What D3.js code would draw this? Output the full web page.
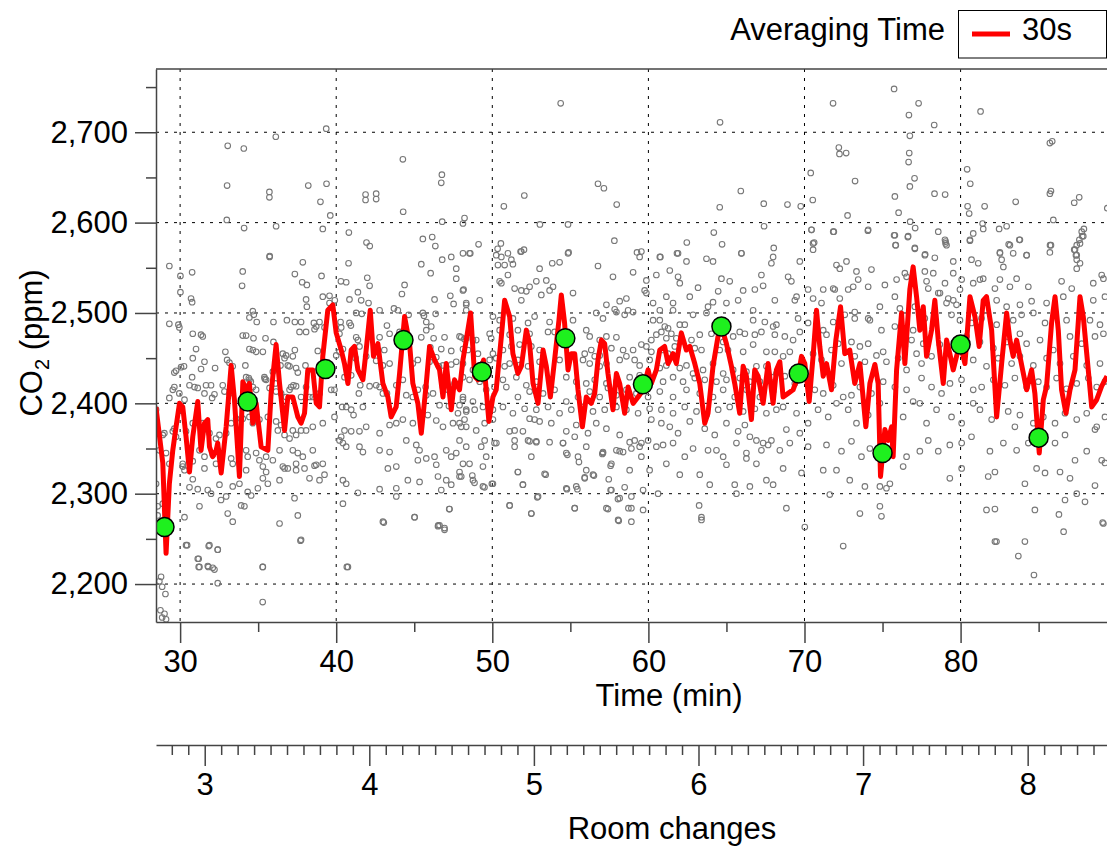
<!DOCTYPE html>
<html>
<head>
<meta charset="utf-8">
<script src="https://d3js.org/d3.v7.min.js"></script>
<style>
    body { margin: 0; background: #fff; }
    svg text { font-family: "Liberation Sans", Arial, Helvetica, sans-serif; fill: #000; }
</style>
</head>
<body>
<svg id="chart" width="1107" height="846"></svg>
<script>
// axis ranges and ticks
const timeDomain = [28.455, 89.38];
const co2Domain = [2158, 2770];
const roomDomain = [2.704, 8.482];
const timeTicks = [30, 40, 50, 60, 70, 80];
const timeMinor = [35, 45, 55, 65, 75, 85];
const co2Ticks = [2200, 2300, 2400, 2500, 2600, 2700];
const co2Minor = [2250, 2350, 2450, 2550, 2650, 2750];
const roomTicks = [3, 4, 5, 6, 7, 8];

// 30 s running average
const avgTime = [28.45, 28.89, 29.10, 29.31, 29.53, 29.74, 29.96, 30.17, 30.38, 30.60, 30.81, 31.13, 31.34, 31.56, 31.77, 31.88, 32.09, 32.31, 32.41, 32.63,
    32.95, 33.27, 33.48, 33.80, 34.02, 34.23, 34.44, 34.66, 34.87, 35.19, 35.62, 35.83, 36.15, 36.37, 36.69, 36.90, 37.22, 37.54, 37.75, 37.97,
    38.18, 38.50, 38.72, 38.93, 39.14, 39.46, 39.78, 40.00, 40.32, 40.53, 40.75, 40.96, 41.17, 41.39, 41.71, 41.92, 42.18, 42.39, 42.67, 42.99,
    43.31, 43.52, 43.84, 44.06, 44.38, 44.70, 44.91, 45.23, 45.45, 45.77, 45.98, 46.30, 46.62, 46.84, 47.05, 47.37, 47.58,
    47.90, 48.12, 48.33, 48.61, 48.87, 49.08, 49.29, 49.44, 49.61, 49.78, 50.04, 50.25, 50.58, 50.79, 51.11, 51.32, 51.64, 51.86, 52.18, 52.39,
    52.61, 52.93, 53.25, 53.46, 53.72, 53.99, 54.27, 54.42, 54.63, 54.85, 55.06, 55.28, 55.49, 55.77, 56.02, 56.34, 56.56, 56.77, 56.99, 57.20,
    57.41, 57.73, 57.95, 58.16, 58.48, 58.70, 59.02, 59.34, 59.66, 59.98, 60.19, 60.51, 60.73, 61.04, 61.26, 61.58, 61.79, 62.11, 62.43, 62.65,
    62.97, 63.29, 63.61, 63.82, 64.14, 64.46, 64.68, 65.00, 65.32, 65.53, 65.85, 66.07, 66.28, 66.60, 66.81, 67.03, 67.35, 67.67, 67.99, 68.20,
    68.42, 68.63, 68.95, 69.27, 69.59, 69.81, 70.02, 70.30, 70.55, 70.77, 70.98, 71.20, 71.41, 71.73, 72.01, 72.31, 72.58, 72.90, 73.22, 73.55,
    73.93, 74.19, 74.51, 74.72, 74.87, 75.15, 75.36, 75.58, 75.68, 75.90, 76.22, 76.43, 76.75, 76.96, 77.18, 77.39, 77.61, 77.82, 78.14, 78.35,
    78.57, 78.89, 79.10, 79.31, 79.53, 79.74, 79.96, 80.28, 80.60, 80.92, 81.19, 81.45, 81.66, 81.99, 82.31, 82.63, 82.95, 83.16, 83.37, 83.59,
    83.80, 84.23, 84.55, 84.76, 85.04, 85.30, 85.51, 85.83, 86.05, 86.26, 86.47, 86.75, 87.01, 87.33, 87.65, 87.86, 88.18, 88.40, 88.72, 89.04, 89.38];
const avgCO2 = [2396, 2334, 2234, 2311, 2348, 2374, 2400, 2396, 2363, 2324, 2363, 2402, 2348, 2378, 2382, 2352, 2341, 2348, 2356, 2323,
    2374, 2442, 2404, 2319, 2424, 2415, 2422, 2378, 2400, 2352, 2348, 2411, 2465, 2422, 2370, 2407, 2407, 2385, 2378, 2389,
    2437, 2437, 2400, 2396, 2452, 2503, 2509, 2478, 2459, 2444, 2422, 2459, 2463, 2437, 2426, 2459, 2503, 2452, 2466, 2422,
    2407, 2385, 2396, 2433, 2496, 2466, 2422, 2400, 2367, 2422, 2463, 2448, 2437, 2407, 2444, 2393, 2426,
    2415, 2448, 2470, 2500, 2430, 2426, 2437, 2448, 2415, 2380, 2407, 2415, 2474, 2514, 2496, 2455, 2433, 2441, 2481, 2466,
    2422, 2400, 2459, 2441, 2407, 2448, 2492, 2520, 2489, 2437, 2455, 2455, 2415, 2374, 2407, 2400, 2411, 2448, 2470, 2466,
    2433, 2393, 2433, 2422, 2389, 2418, 2400, 2407, 2415, 2437, 2422, 2437, 2459, 2463, 2444, 2455, 2444, 2478, 2459, 2463,
    2444, 2422, 2378, 2389, 2441, 2474, 2485, 2466, 2441, 2422, 2389, 2441, 2430, 2382, 2437, 2430, 2400, 2444, 2400, 2437,
    2446, 2407, 2411, 2415, 2430, 2452, 2444, 2402, 2452, 2503, 2463, 2430, 2444, 2415, 2470, 2507, 2455, 2459, 2422, 2444,
    2374, 2422, 2443, 2422, 2319, 2371, 2359, 2374, 2341, 2437, 2500, 2444, 2526, 2551, 2518, 2481, 2507, 2452, 2481, 2514,
    2470, 2422, 2470, 2455, 2437, 2452, 2466, 2444, 2518, 2496, 2463, 2514, 2518, 2481, 2385, 2444, 2500, 2470, 2452, 2470,
    2452, 2415, 2437, 2411, 2345, 2404, 2419, 2489, 2518, 2481, 2415, 2389, 2415, 2437, 2518, 2496, 2437, 2396, 2404, 2419, 2430];

// green markers, one per 5 minutes
const markerTime = [29.0, 34.33, 39.31, 44.31, 49.33, 54.68, 59.65, 64.68, 69.63, 75.0, 80.0, 85.0];
const markerCO2 = [2263, 2402, 2438, 2470, 2435, 2472, 2421, 2485, 2433, 2345, 2465, 2362];

// raw readings [time (min), CO2 (ppm)]
const rawPoints = [
    [35.73,2562],[48.12,2566],[47.37,2562],[29.31,2552],[37.86,2556],[40.79,2555],[45.45,2554],[46.79,2559],[47.69,2549],[30.77,2545],
    [34.01,2546],[37.35,2543],[39.06,2541],[46.05,2544],[30.02,2541],[40.30,2535],[40.64,2534],[41.99,2539],[37.82,2534],[38.12,2531],
    [33.97,2530],[42.14,2530],[47.69,2538],[48.16,2526],[44.38,2531],[30.02,2523],[41.39,2523],[44.21,2521],[47.31,2519],
    [30.70,2516],[30.77,2512],[38.07,2515],[38.12,2507],[39.14,2518],[39.57,2519],[39.91,2514],[40.85,2515],[41.60,2514],[42.07,2511],
    [39.57,2511],[42.78,2503],[43.70,2505],[43.95,2503],[44.64,2498],[46.30,2515],[47.52,2510],[48.33,2509],[48.33,2503],[46.37,2499],
    [45.55,2500],[45.62,2497],[34.66,2502],[34.72,2498],[34.44,2495],[36.84,2492],[37.35,2490],[37.75,2490],[38.57,2489],[38.93,2490],
    [40.28,2490],[40.85,2489],[40.94,2486],[41.28,2500],[41.64,2499],[43.25,2486],[29.31,2488],[29.95,2484],[29.89,2487],[35.98,2490],
    [34.91,2490],[45.77,2490],[45.77,2481],[46.09,2485],
    [30.81,2477],[31.34,2476],[31.45,2474],[34.01,2475],[34.23,2475],[34.70,2472],[35.47,2472],[35.98,2468],[37.65,2479],[38.07,2479],
    [38.61,2482],[38.72,2485],[39.25,2484],[40.21,2477],[40.32,2484],[41.28,2473],[41.39,2470],[42.14,2474],[42.78,2473],[43.42,2477],
    [44.06,2479],[45.45,2473],[46.24,2472],[46.94,2473],[48.01,2473],[48.22,2471],[31.02,2460],[32.90,2457],[34.44,2460],[34.66,2459],
    [34.87,2457],[35.30,2457],[36.58,2455],[36.79,2453],[37.35,2459],[38.82,2458],[40.43,2460],[41.49,2463],[42.44,2462],[43.08,2459],
    [46.03,2462],[46.73,2460],[47.37,2458],[48.12,2460],
    [30.81,2450],[31.56,2446],[32.24,2439],[33.01,2448],[33.16,2445],[33.37,2441],[34.18,2442],[34.40,2428],[34.53,2424],[35.43,2427],
    [35.94,2435],[36.43,2442],[36.69,2450],[36.90,2442],[37.22,2452],[37.01,2441],[37.43,2439],[37.54,2434],[38.03,2442],[38.93,2442],
    [40.00,2453],[40.21,2457],[40.53,2429],[40.96,2431],[41.24,2450],[41.92,2452],[42.56,2447],[42.99,2442],[43.42,2444],[44.91,2444],
    [45.23,2448],[45.98,2446],[46.41,2451],[46.58,2441],[46.84,2442],[47.37,2443],[47.69,2446],[48.12,2429],[29.63,2434],[29.74,2436],
    [30.06,2440],[30.25,2441],[30.77,2429],[31.34,2438],[29.63,2418],[29.53,2415],[29.95,2411],[30.60,2420],[30.92,2418],[31.13,2417],
    [31.66,2420],[31.98,2420],[31.56,2411],[32.05,2406],[32.20,2410],[32.73,2420],[32.84,2413],[33.16,2411],[30.28,2404],[29.31,2406],
    [34.23,2429],[34.44,2426],[34.66,2418],[34.87,2415],[35.40,2429],[35.51,2426],[35.73,2417],[36.11,2422],[36.15,2413],[36.47,2411],
    [36.79,2407],[37.01,2415],[37.11,2418],[37.26,2420],[37.43,2419],[37.75,2407],[38.07,2418],[38.29,2407],[38.50,2407],[38.93,2411],
    [39.68,2415],[39.89,2415],[40.38,2396],[40.64,2396],[40.96,2393],[41.11,2387],[41.45,2411],[41.54,2420],[41.71,2396],[42.14,2419],
    [42.56,2420],[42.78,2418],[42.99,2411],[43.25,2411],[43.85,2420],[44.27,2426],[44.49,2409],[44.91,2407],[45.23,2415],[45.73,2418],
    [45.77,2409],[46.20,2411],[46.84,2418],[47.16,2415],[47.58,2422],[48.12,2404],[48.33,2393],[47.90,2398],[46.62,2398],[47.80,2389],[47.22,2397],
    [28.46,2393],[28.89,2365],[29.63,2372],[29.53,2369],[28.99,2367],[29.74,2363],[30.38,2369],[30.81,2378],[31.45,2378],[31.45,2370],
    [31.88,2367],[32.30,2361],[32.52,2365],[32.95,2367],[33.27,2378],[33.59,2383],[34.01,2383],[34.44,2385],[34.66,2378],[35.08,2382],
    [35.62,2385],[36.15,2380],[36.47,2376],[36.26,2370],[36.69,2365],[37.01,2361],[37.22,2370],[37.43,2365],[37.75,2370],[38.07,2370],
    [38.50,2374],[39.14,2378],[39.89,2385],[40.32,2363],[40.53,2370],[40.96,2369],[41.49,2369],[41.92,2374],[42.78,2367],[43.42,2376],
    [43.85,2378],[44.27,2382],[44.91,2378],[45.87,2387],[46.41,2381],[46.84,2374],[47.48,2378],[48.01,2374],[48.22,2382],
    [28.35,2365],[28.67,2348],[29.10,2345],[29.31,2333],[30.17,2333],[30.17,2330],[30.81,2336],[31.24,2348],[31.56,2341],[32.09,2343],
    [32.30,2333],[32.41,2348],[33.27,2339],[33.37,2333],[34.23,2348],[34.33,2341],[34.87,2345],[35.08,2337],[35.30,2330],[35.51,2341],
    [35.94,2337],[36.37,2348],[36.58,2330],[37.22,2348],[37.43,2333],[37.54,2345],[37.86,2341],[38.50,2348],[38.72,2332],[39.14,2333],
    [39.25,2321],[40.21,2359],[40.43,2356],[40.64,2352],[41.49,2352],[41.71,2346],[42.78,2348],[43.42,2346],[43.85,2330],[44.49,2359],
    [45.13,2354],[45.34,2348],[45.23,2337],[45.77,2339],[46.30,2341],[46.41,2332],[47.05,2348],[47.37,2341],[47.69,2345],[48.12,2333],
    [28.46,2311],[28.56,2286],[28.89,2289],[30.28,2326],[30.60,2307],[30.81,2316],[31.13,2305],[31.56,2328],[31.77,2304],[31.98,2300],
    [32.52,2310],[32.62,2293],[33.05,2278],[33.37,2308],[33.80,2311],[33.91,2287],[34.12,2286],[34.23,2326],[34.33,2302],[34.55,2298],
    [34.98,2306],[35.30,2317],[35.51,2324],[35.62,2311],[36.37,2315],[36.69,2328],[36.90,2328],[37.43,2326],[37.97,2328],[38.29,2317],
    [38.61,2331],[38.93,2315],[40.43,2315],[40.64,2311],[41.39,2301],[42.78,2305],[43.31,2328],[43.85,2306],[44.59,2315],[45.34,2313],
    [46.52,2319],[46.73,2304],[47.05,2315],[47.37,2310],[47.90,2324],[48.01,2319],
    [28.56,2276],[28.99,2271],[30.28,2274],[30.38,2243],[31.24,2286],[31.88,2243],[32.41,2238],[32.95,2297],[33.37,2269],[36.37,2267],
    [37.33,2295],[37.54,2276],[37.75,2249],[40.43,2289],[42.99,2269],[43.85,2297],[45.02,2274],[46.62,2265],[46.94,2262],[47.26,2283],
    [31.13,2228],[31.24,2219],[31.77,2220],[32.09,2218],[35.30,2219],[40.75,2219],[46.52,2264],
    [28.78,2208],[28.67,2203],[28.85,2197],[29.06,2189],[28.74,2171],[29.00,2167],[28.85,2163],[29.10,2161],[32.41,2201],[35.29,2180],
    [30.45,2243],[31.83,2242],[32.41,2238],[31.19,2228],[31.19,2219],[31.81,2219],[32.20,2216],[35.29,2219],[37.71,2248],[40.68,2219],
    [43.05,2268],[45.02,2274],[46.54,2265],[46.94,2260],[47.24,2283],[51.11,2287],[52.50,2278],[55.28,2284],[57.41,2283],[58.10,2270],
    [58.72,2284],[52.88,2296],[51.96,2310],[54.78,2305],[55.45,2305],[57.58,2304],[58.05,2294],[58.48,2307],[51.64,2324],[53.42,2321],
    [55.92,2318],[56.51,2320],[57.46,2316],[54.81,2343],[55.55,2335],[57.05,2344],[57.58,2331],[58.16,2347],[50.26,2356],[51.43,2352],
    [52.39,2358],[52.82,2358],[54.53,2356],[49.40,2330],[49.97,2311],[49.50,2307],[48.72,2320],[48.86,2312],
    [48.54,2566],[50.25,2564],[50.58,2562],[51.00,2566],[51.22,2559],[51.86,2568],[54.85,2566],[59.44,2562],[59.55,2568],[60.73,2562],
    [61.90,2566],[62.44,2557],[63.72,2560],[64.14,2557],[65.96,2566],[67.99,2562],[50.36,2553],[50.79,2553],[51.32,2554],[53.03,2549],
    [53.84,2555],[54.31,2556],[56.77,2552],[59.02,2545],[61.37,2547],[61.90,2540],[62.01,2533],[67.24,2542],[67.88,2555],[50.47,2535],
    [50.58,2533],[51.00,2542],[52.82,2535],[53.46,2536],[57.73,2540],[59.87,2536],[60.51,2542],[65.21,2535],[64.68,2538],
    [48.12,2525],[51.43,2527],[51.86,2525],[52.18,2524],[52.39,2529],[53.14,2520],[53.67,2525],[53.89,2529],[55.17,2522],[58.16,2513],
    [58.59,2516],[59.76,2525],[59.87,2522],[61.15,2518],[61.58,2511],[62.65,2518],[63.18,2528],[64.47,2524],[65.00,2511],[65.75,2514],
    [66.07,2525],[66.82,2526],[67.35,2530],[68.10,2514],[48.33,2511],[49.19,2514],[51.86,2514],[57.31,2509],[57.84,2504],[58.70,2503],
    [59.02,2501],[60.30,2511],[60.73,2503],[61.58,2503],[62.86,2498],[63.82,2507],[64.14,2512],[66.71,2503],[50.04,2496],[50.47,2492],
    [51.32,2494],[52.29,2489],[52.71,2496],[53.67,2490],[55.17,2492],[56.66,2500],[57.09,2494],[57.95,2501],[58.48,2498],[60.30,2492],
    [60.73,2492],[61.05,2485],[61.26,2483],[62.01,2487],[62.33,2487],[63.72,2500],[66.71,2492],[67.46,2490],[67.99,2485],[68.20,2487],
    [47.90,2474],[48.33,2472],[48.76,2470],[48.97,2470],[49.83,2477],[49.93,2472],[50.47,2481],[51.11,2476],[51.64,2481],[52.39,2477],
    [53.57,2479],[53.99,2479],[56.02,2481],[56.24,2474],[56.88,2470],[57.31,2474],[57.95,2473],[60.19,2470],[60.51,2476],[60.83,2479],
    [61.15,2472],[61.47,2477],[61.79,2472],[62.76,2470],[63.29,2476],[64.04,2477],[64.79,2468],[65.43,2474],[65.85,2479],[66.18,2477],
    [66.82,2476],[67.24,2479],[68.10,2476],[48.44,2459],[49.08,2455],[50.04,2455],[50.68,2459],[51.22,2463],[51.75,2465],[52.50,2463],
    [53.03,2459],[55.92,2455],[56.34,2459],[56.88,2453],[57.63,2461],[58.38,2459],[59.02,2459],[59.55,2465],[59.87,2463],[60.19,2457],
    [60.94,2459],[61.26,2455],[61.69,2463],[62.97,2461],[63.40,2459],[64.57,2459],[65.10,2459],[66.07,2457],[66.71,2465],[67.56,2457],[68.10,2457],
    [48.12,2444],[48.76,2437],[49.40,2444],[49.83,2448],[50.25,2450],[50.79,2441],[51.11,2444],[51.64,2448],[52.29,2441],[53.03,2446],
    [54.31,2448],[55.17,2452],[55.81,2448],[56.24,2444],[56.56,2452],[56.88,2441],[57.31,2444],[58.16,2448],[58.59,2452],[59.12,2448],
    [59.44,2442],[60.08,2448],[60.73,2439],[61.15,2442],[62.01,2439],[62.44,2442],[62.86,2433],[63.50,2437],[64.14,2444],[64.79,2433],
    [65.43,2437],[66.28,2435],[66.92,2441],[67.56,2441],[68.20,2433],[48.54,2426],[49.19,2424],[50.68,2426],[51.54,2429],[52.18,2420],
    [52.82,2424],[53.67,2426],[54.74,2429],[55.38,2424],[56.02,2422],[56.56,2426],[57.31,2422],[57.95,2424],[58.80,2429],[59.44,2431],
    [60.08,2426],[60.94,2424],[61.58,2429],[62.22,2424],[62.97,2428],[63.61,2426],[64.36,2424],[65.00,2426],[65.85,2428],[66.50,2424],
    [67.14,2424],[67.99,2429],
    [48.12,2407],[48.76,2402],[49.61,2415],[50.14,2418],[50.90,2418],[51.64,2407],[52.39,2413],[53.25,2411],[53.99,2415],[54.74,2402],
    [55.49,2407],[56.24,2413],[56.88,2407],[57.41,2417],[57.95,2409],[58.59,2415],[59.23,2411],[59.98,2407],[60.73,2413],[61.58,2407],
    [62.44,2415],[63.29,2411],[64.14,2407],[64.79,2415],[65.53,2407],[66.28,2415],[67.14,2407],[67.99,2413],[48.33,2391],[48.87,2393],
    [49.40,2396],[50.04,2393],[50.68,2396],[51.32,2389],[52.07,2394],[52.82,2393],[53.57,2396],[54.31,2389],[55.06,2393],[55.81,2396],
    [56.45,2391],[57.20,2393],[57.95,2396],[58.59,2393],[59.34,2389],[60.08,2394],[60.83,2393],[61.58,2389],[62.33,2396],[63.08,2391],
    [63.72,2387],[64.47,2393],[65.21,2396],[66.07,2391],[66.82,2394],[67.56,2389],[68.20,2393],
    [47.90,2378],[48.33,2374],[48.97,2370],[49.51,2378],[50.04,2382],[51.11,2369],[51.43,2370],[51.96,2369],[52.39,2383],[52.71,2382],
    [53.03,2380],[53.78,2378],[54.74,2369],[55.38,2376],[56.13,2367],[56.66,2378],[57.31,2372],[58.16,2365],[58.80,2357],[59.12,2359],
    [59.55,2356],[60.19,2382],[60.83,2378],[61.37,2374],[61.90,2367],[62.65,2380],[63.61,2372],[64.25,2365],[65.00,2378],[65.75,2369],
    [66.18,2376],[66.50,2363],[66.92,2359],[67.35,2356],[67.88,2359],[47.90,2359],[48.33,2352],[49.51,2359],[50.14,2356],[51.43,2359],
    [52.29,2359],[52.82,2357],[53.67,2357],[54.53,2356],[55.28,2363],[56.02,2352],[57.09,2345],[57.95,2348],[58.38,2346],[58.91,2350],
    [59.44,2352],[59.98,2359],[60.51,2352],[60.94,2354],[61.58,2356],[62.86,2350],[63.82,2348],[64.36,2348],[65.64,2356],[66.28,2345],
    [67.24,2348],[67.67,2354],
    [48.54,2333],[49.29,2352],[49.61,2341],[51.64,2324],[52.50,2341],[53.35,2322],[54.74,2345],[55.49,2341],[56.02,2326],[56.45,2321],
    [57.09,2346],[57.63,2333],[58.80,2326],[59.55,2341],[60.08,2326],[61.15,2333],[62.33,2341],[63.29,2321],[64.79,2341],[65.00,2332],
    [66.28,2339],[66.92,2333],[67.56,2315],[67.99,2310],[47.90,2319],[48.76,2315],[49.40,2308],[50.04,2311],[51.96,2310],[52.93,2297],
    [54.74,2306],[55.38,2308],[55.92,2317],[57.63,2304],[58.16,2295],[58.91,2297],[59.66,2304],[60.62,2300],[62.01,2321],[63.93,2310],
    [65.53,2310],[65.64,2300],[66.50,2308],[51.11,2287],[52.50,2278],[55.28,2284],[57.31,2284],[58.06,2271],[58.91,2284],[58.91,2269],
    [59.66,2282],[63.25,2287],[63.40,2274],[63.40,2271],
    [70.45,2592],[71.84,2590],[74.08,2592],[75.79,2586],[76.64,2585],[78.57,2590],[80.60,2581],[80.81,2588],[87.76,2590],[87.86,2585],
    [70.55,2577],[75.85,2575],[77.07,2572],[79.04,2579],[79.10,2575],[83.16,2575],[83.80,2581],[85.73,2575],[87.44,2575],[87.61,2581],
    [82.52,2566],[84.23,2564],[87.33,2570],[87.39,2564],[69.70,2557],[77.71,2564],[78.35,2561],[79.53,2557],[80.70,2559],[81.13,2555],
    [82.63,2559],[87.44,2559],[87.65,2555],
    [72.05,2553],[72.26,2549],[72.69,2557],[73.33,2546],[74.29,2548],[76.43,2544],[77.71,2546],[78.25,2544],[79.53,2544],[82.74,2551],
    [87.44,2549],[68.95,2540],[69.16,2535],[70.23,2526],[70.55,2516],[71.94,2526],[72.26,2516],[72.80,2526],[73.44,2537],[74.08,2529],
    [75.15,2531],[75.90,2537],[76.54,2540],[77.82,2535],[77.93,2527],[79.00,2533],[80.07,2537],[80.81,2533],[81.24,2537],[81.45,2538],
    [82.20,2527],[82.52,2537],[83.16,2529],[83.59,2538],[84.34,2529],[86.47,2535],[87.12,2527],[88.50,2533],[89.04,2542],[89.15,2538],
    [69.49,2518],[71.20,2526],[71.84,2527],[73.12,2529],[75.79,2518],[78.68,2522],[79.21,2516],[79.53,2514],[79.96,2526],
    [69.38,2514],[71.09,2511],[73.22,2501],[74.08,2494],[74.83,2507],[76.11,2505],[77.07,2507],[78.57,2522],[79.10,2511],[79.74,2509],
    [82.31,2514],[82.95,2507],[83.80,2509],[84.55,2513],[85.51,2511],[86.58,2518],[88.50,2514],[89.25,2518],[68.74,2474],[69.59,2494],
    [70.23,2489],[71.20,2481],[71.84,2490],[72.58,2498],[73.22,2494],[74.19,2492],[74.93,2481],[75.79,2485],[76.96,2481],[77.50,2490],
    [77.71,2494],[79.42,2498],[79.96,2492],[80.70,2489],[81.34,2494],[82.31,2487],[83.37,2492],[83.91,2498],[84.66,2500],[85.41,2489],
    [86.79,2492],[87.65,2496],[88.29,2492],[88.93,2487],[89.15,2477],
    [69.27,2470],[69.70,2479],[71.41,2476],[72.16,2466],[73.01,2468],[73.55,2463],[74.08,2466],[75.04,2457],[76.43,2463],[76.86,2470],
    [77.18,2455],[77.61,2466],[78.67,2465],[80.38,2474],[81.24,2468],[82.10,2461],[82.95,2468],[83.80,2477],[84.23,2466],[85.09,2470],
    [85.94,2459],[87.01,2474],[87.76,2466],[88.61,2474],[68.63,2452],[69.06,2457],[70.55,2455],[71.09,2448],[71.73,2459],[72.37,2444],
    [73.22,2452],[73.87,2446],[74.61,2453],[75.25,2446],[76.00,2450],[76.54,2437],[77.50,2444],[78.14,2452],[78.89,2441],[79.53,2444],
    [80.81,2448],[81.66,2441],[82.41,2450],[83.27,2444],[83.80,2452],[84.66,2442],[85.51,2450],[86.37,2444],[87.22,2452],[88.08,2442],[88.93,2444],
    [68.74,2430],[69.38,2422],[70.13,2430],[70.66,2415],[71.20,2411],[71.84,2420],[72.48,2407],[73.01,2409],[73.55,2418],[74.29,2411],
    [75.04,2424],[75.79,2418],[76.54,2415],[77.50,2428],[78.14,2418],[78.78,2411],[79.32,2422],[80.06,2426],[80.81,2415],[81.35,2418],
    [82.10,2426],[82.84,2420],[83.48,2428],[84.23,2418],[84.98,2424],[85.51,2418],[86.15,2428],[86.79,2416],[87.44,2422],[88.18,2428],
    [88.72,2418],[89.25,2424],
    [68.63,2396],[69.49,2389],[70.23,2378],[70.87,2393],[71.52,2385],[72.05,2400],[72.80,2393],[73.33,2378],[74.08,2387],[74.83,2400],
    [76.32,2385],[76.96,2402],[77.39,2400],[77.82,2378],[78.46,2393],[79.42,2385],[80.07,2378],[80.81,2400],[81.24,2393],[81.99,2382],
    [83.05,2391],[83.48,2374],[83.80,2387],[84.66,2378],[85.30,2385],[86.05,2378],[86.69,2389],[87.44,2382],[88.08,2389],[88.72,2374],
    [89.25,2385],[68.84,2371],
    [69.06,2356],[69.70,2367],[70.23,2352],[71.41,2354],[72.37,2347],[73.01,2358],[73.65,2341],[74.19,2350],[76.54,2341],[77.39,2347],
    [77.93,2359],[78.57,2347],[79.31,2354],[80.07,2356],[80.70,2363],[81.88,2347],[82.74,2356],[83.59,2348],[84.34,2356],[86.05,2356],
    [86.69,2365],[87.33,2337],[88.08,2347],[88.61,2371],[89.04,2337],[68.42,2348],
    [68.63,2328],[69.81,2323],[71.20,2326],[72.05,2326],[72.90,2315],[73.87,2308],[74.83,2308],[75.25,2306],[75.47,2311],[76.32,2330],
    [79.31,2317],[80.07,2328],[81.77,2319],[82.20,2324],[84.12,2311],[84.87,2328],[85.41,2323],[86.37,2324],[87.01,2317],[88.61,2309],[89.25,2334],
    [68.84,2284],[70.02,2263],[71.62,2299],[73.55,2278],[74.83,2286],[74.93,2275],[81.66,2282],[84.12,2247],[84.76,2282],[86.69,2293],
    [87.44,2300],[87.97,2291],[89.15,2267],[72.48,2242],[82.20,2247],
    [82.30,2247],[83.70,2231],[84.70,2210],[86.60,2258],[86.30,2277],[82.20,2283],[89.10,2268],
    [33.05,2685],[34.08,2682],[36.13,2695],[39.36,2704],[33.01,2641],[35.72,2634],[35.72,2628],[38.21,2641],[39.38,2643],[38.99,2623],
    [39.62,2608],[32.99,2603],[34.10,2594],[36.15,2596],[39.14,2593],[40.81,2589],[44.27,2670],[46.77,2653],[46.73,2644],[44.29,2612],
    [41.94,2578],[42.15,2574],[41.88,2631],[41.88,2625],[42.56,2632],[42.56,2626],[46.79,2601],[48.12,2599],[48.22,2605],[45.55,2582],
    [46.15,2584],[46.35,2574],[49.12,2576],[48.59,2566],[50.74,2618],[52.05,2630],[53.05,2598],[50.55,2577],[50.34,2571],[51.81,2568],
    [52.03,2570],[35.74,2563],
    [54.38,2732],[64.59,2711],[71.83,2732],[75.74,2748],[76.69,2719],[77.31,2732],[78.31,2708],[76.75,2696],[72.20,2683],[72.24,2676],
    [72.67,2677],[76.71,2677],[76.67,2667],[70.40,2655],[73.24,2646],[77.05,2649],[76.75,2640],[75.79,2629],[78.33,2632],[79.01,2631],
    [76.03,2611],[72.76,2608],[70.53,2625],[56.77,2643],[57.15,2638],[57.97,2620],[65.92,2635],[64.57,2617],[67.39,2621],[68.91,2620],
    [69.76,2618],[54.85,2598],[67.41,2596],[64.19,2589],[57.82,2580],[54.89,2567],[62.46,2578],[64.72,2576],[59.27,2567],[60.77,2562],
    [61.83,2566],[65.96,2566],[68.03,2572],[70.45,2592],[70.62,2578],[70.55,2570],[71.88,2590],[74.06,2591],[75.74,2586],[76.62,2584],
    [76.77,2601],[77.09,2594],[75.83,2575],[77.07,2571],[77.73,2565],[79.00,2581],[79.04,2577],
    [81.28,2723],[85.72,2688],[85.87,2690],[80.42,2659],[80.62,2643],[80.45,2618],[80.55,2610],[81.54,2618],[83.53,2623],[85.72,2632],
    [85.79,2635],[87.28,2622],[87.60,2628],[81.41,2599],[81.45,2593],[82.47,2593],[82.95,2596],[85.94,2603],[87.90,2593],[87.79,2585],
    [87.65,2577],[80.60,2580],[83.08,2576],[83.76,2581],[82.52,2567],[83.37,2566],[84.23,2564],[85.72,2567],[85.79,2575],[87.28,2570],
    [87.44,2564],[89.40,2616]
];

const svg = d3.select("#chart");
const pLeft = 156, pRight = 1107, pTop = 69, pBottom = 622;

const x = d3.scaleLinear().domain(timeDomain).range([pLeft, pRight]);
const y = d3.scaleLinear().domain(co2Domain).range([pBottom, pTop]);
const xRoom = d3.scaleLinear().domain(roomDomain).range([pLeft, pRight]);

svg.append("defs").append("clipPath").attr("id", "plotClip")
    .append("rect").attr("x", pLeft).attr("y", pTop).attr("width", pRight - pLeft).attr("height", pBottom - pTop);

// grid
const grid = svg.append("g").attr("stroke", "#000").attr("stroke-width", 1).attr("stroke-dasharray", "3,6");
grid.selectAll("line.h").data(co2Ticks).enter().append("line")
    .attr("x1", pLeft).attr("x2", pRight)
    .attr("y1", d => y(d)).attr("y2", d => y(d));
grid.selectAll("line.v").data(timeTicks).enter().append("line")
    .attr("x1", d => x(d)).attr("x2", d => x(d))
    .attr("y1", pTop).attr("y2", pBottom);

const plot = svg.append("g").attr("clip-path", "url(#plotClip)");

// raw readings
plot.append("g")
    .selectAll("circle")
    .data(rawPoints)
    .enter()
    .append("circle")
    .attr("cx", d => x(d[0]))
    .attr("cy", d => y(d[1]))
    .attr("r", 2.8)
    .attr("fill", "none")
    .attr("stroke", "#777")
    .attr("stroke-width", 1.1);

// 30 s average
const line = d3.line().x(d => x(d[0])).y(d => y(d[1]));
plot.append("path")
    .datum(avgTime.map((t, i) => [t, avgCO2[i]]))
    .attr("d", line)
    .attr("fill", "none")
    .attr("stroke", "#ff0000")
    .attr("stroke-width", 5)
    .attr("stroke-linejoin", "round");

// markers
plot.append("g")
    .selectAll("circle")
    .data(markerTime.map((t, i) => [t, markerCO2[i]]))
    .enter()
    .append("circle")
    .attr("cx", d => x(d[0]))
    .attr("cy", d => y(d[1]))
    .attr("r", 9.5)
    .attr("fill", "#1ef01e")
    .attr("stroke", "#000")
    .attr("stroke-width", 1.5);

// axes
function styleAxis(g) {
    g.selectAll(".domain, .tick line").attr("stroke", "#444").attr("stroke-width", 1.5);
    g.selectAll(".tick text").attr("font-size", 31).attr("fill", "#000")
        .attr("font-family", "'Liberation Sans', Arial, Helvetica, sans-serif");
}

svg.append("g").attr("transform", `translate(${pLeft},0)`)
    .call(d3.axisLeft(y).tickValues(co2Ticks).tickSize(21).tickPadding(7).tickSizeOuter(0).tickFormat(d3.format(",")))
    .call(styleAxis);
svg.append("g").attr("transform", `translate(${pLeft},0)`)
    .call(d3.axisLeft(y).tickValues(co2Minor).tickSize(10).tickFormat(""))
    .call(g => g.select(".domain").remove())
    .call(styleAxis);

svg.append("g").attr("transform", `translate(0,${pBottom})`)
    .call(d3.axisBottom(x).tickValues(timeTicks).tickSize(21).tickPadding(7).tickSizeOuter(0))
    .call(styleAxis);
svg.append("g").attr("transform", `translate(0,${pBottom})`)
    .call(d3.axisBottom(x).tickValues(timeMinor).tickSize(10).tickFormat(""))
    .call(g => g.select(".domain").remove())
    .call(styleAxis);

// top frame
svg.append("line")
    .attr("x1", pLeft).attr("x2", pRight).attr("y1", pTop).attr("y2", pTop)
    .attr("stroke", "#444").attr("stroke-width", 1.5);

// room changes axis
const roomY = 745;
const roomMinor = d3.range(2.8, 8.45, 0.1).map(d => Math.round(d * 10) / 10).filter(d => d % 1 !== 0);
svg.append("g").attr("transform", `translate(0,${roomY})`)
    .call(d3.axisBottom(xRoom).tickValues(roomTicks).tickSize(21).tickPadding(7).tickSizeOuter(0).tickFormat(d3.format("d")))
    .call(styleAxis);
svg.append("g").attr("transform", `translate(0,${roomY})`)
    .call(d3.axisBottom(xRoom).tickValues(roomMinor).tickSize(10).tickFormat(""))
    .call(g => g.select(".domain").remove())
    .call(styleAxis);

// titles
svg.append("text")
    .attr("x", 669).attr("y", 706)
    .attr("text-anchor", "middle").attr("font-size", 31)
    .text("Time (min)");

svg.append("text")
    .attr("x", 672).attr("y", 839)
    .attr("text-anchor", "middle").attr("font-size", 31)
    .text("Room changes");

const yTitle = svg.append("text")
    .attr("transform", "translate(42,343) rotate(-90)")
    .attr("text-anchor", "middle").attr("font-size", 31);
yTitle.append("tspan").text("CO");
yTitle.append("tspan").attr("font-size", 20).attr("dy", 7).text("2");
yTitle.append("tspan").attr("dy", -7).text(" (ppm)");

// legend
svg.append("text")
    .attr("x", 945).attr("y", 39.5)
    .attr("text-anchor", "end").attr("font-size", 31)
    .text("Averaging Time");
svg.append("rect")
    .attr("x", 958.5).attr("y", 10.5).attr("width", 148).attr("height", 47.5)
    .attr("fill", "#fff").attr("stroke", "#000").attr("stroke-width", 1);
svg.append("line")
    .attr("x1", 972).attr("x2", 1010).attr("y1", 34).attr("y2", 34)
    .attr("stroke", "#ff0000").attr("stroke-width", 5);
svg.append("text")
    .attr("x", 1022).attr("y", 39.5)
    .attr("font-size", 31)
    .text("30s");
</script>
</body>
</html>
